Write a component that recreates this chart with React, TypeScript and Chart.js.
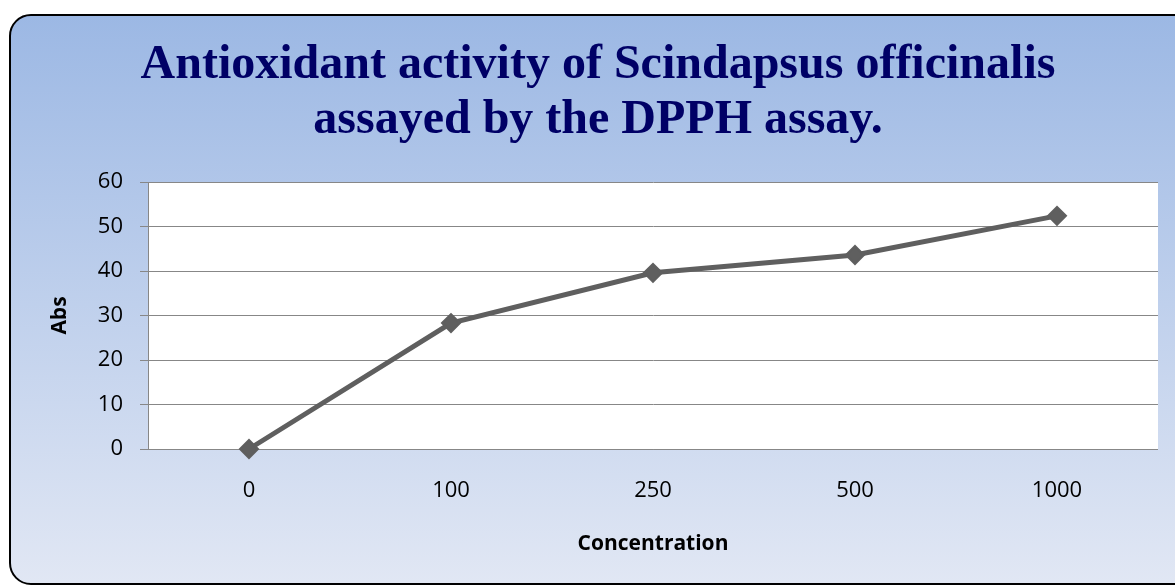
import React, { useEffect, useRef } from 'react';
import { Chart, registerables } from 'chart.js';

Chart.register(...registerables);

const categories = ['0', '100', '250', '500', '1000'];
const absValues = [0, 28.3, 39.6, 43.6, 52.4];
const yMin = 0;
const yMax = 60;
const yStep = 10;
const titleLines = ['Antioxidant activity of Scindapsus officinalis', 'assayed by the DPPH assay.'];
const xTitle = 'Concentration';
const yTitle = 'Abs';

const plotBg = {
  id: 'plotBg',
  beforeDraw(chart: any) {
    const { ctx, chartArea } = chart;
    if (!chartArea) return;
    ctx.save();
    ctx.fillStyle = '#ffffff';
    ctx.fillRect(chartArea.left, chartArea.top, chartArea.right - chartArea.left, chartArea.bottom - chartArea.top);
    ctx.restore();
  },
};

export default function App() {
  const ref = useRef<HTMLCanvasElement | null>(null);

  useEffect(() => {
    document.body.style.margin = '0';
    if (!ref.current) return;
    const tickFont = { family: '"Open Sans", "DejaVu Sans", sans-serif', size: 22 };
    const axisTitleFont = { family: '"Open Sans", "DejaVu Sans", sans-serif', size: 21, weight: 'bold' as const };
    const chart = new Chart(ref.current, {
      type: 'line',
      data: {
        labels: categories,
        datasets: [
          {
            data: absValues,
            borderColor: '#5f5f5f',
            backgroundColor: '#5f5f5f',
            borderWidth: 5,
            pointStyle: 'rectRot',
            pointRadius: 9,
            pointBorderWidth: 2,
            pointBackgroundColor: '#5f5f5f',
            pointBorderColor: '#5f5f5f',
            tension: 0,
            clip: false as any,
          },
        ],
      },
      options: {
        responsive: false,
        animation: false,
        layout: { autoPadding: false, padding: { left: 38, right: 0, top: 0, bottom: 0 } },
        plugins: {
          legend: { display: false },
          tooltip: { enabled: false },
          title: {
            display: true,
            text: titleLines,
            color: '#000066',
            font: { family: '"Liberation Serif", "Times New Roman", serif', size: 48, weight: 'bold', lineHeight: 1.146 },
            padding: { top: 38, bottom: 34 },
          },
        },
        scales: {
          x: {
            type: 'category',
            offset: true,
            grid: { display: false, drawTicks: false },
            border: { display: true, color: '#878787', width: 1 },
            ticks: { padding: 29, color: '#000000', font: tickFont },
            title: { display: true, text: xTitle, color: '#000000', font: axisTitleFont, padding: { top: 0, bottom: 29 } },
            afterFit(s: any) {
              s.height = 137;
              s.paddingLeft = 0;
              s.paddingRight = 0;
            },
          },
          y: {
            min: yMin,
            max: yMax,
            ticks: { stepSize: yStep, padding: 17, color: '#000000', font: tickFont },
            grid: { color: '#878787', lineWidth: 1, tickLength: 8, drawTicks: true },
            border: { display: true, color: '#878787', width: 1 },
            title: { display: true, text: yTitle, color: '#000000', font: axisTitleFont, padding: { top: 9, bottom: 0 } },
            afterFit(s: any) {
              s.width = 110;
            },
          },
        },
      },
      plugins: [plotBg],
    });
    return () => chart.destroy();
  }, []);

  return (
    <div style={{ position: 'fixed', left: 0, top: 0, width: 1175, height: 586, overflow: 'hidden' }}>
      <div
        style={{
          position: 'absolute',
          left: 9,
          top: 14,
          width: 1200,
          height: 571,
          boxSizing: 'border-box',
          border: '2px solid #000',
          borderRadius: 22,
          background: 'linear-gradient(to bottom, #9cb8e4, #e1e7f4)',
        }}
      />
      <canvas ref={ref} width={1158} height={586} style={{ position: 'absolute', left: 0, top: 0, display: 'block' }} />
    </div>
  );
}
